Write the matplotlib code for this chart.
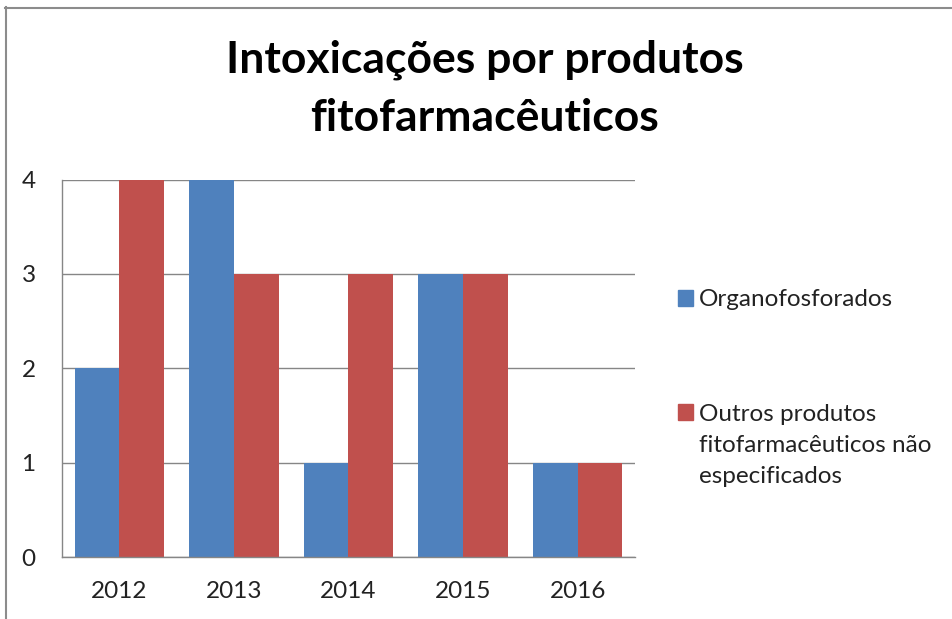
import numpy as np
import matplotlib
matplotlib.use('Agg')
import matplotlib.pyplot as plt
from matplotlib.lines import Line2D
from matplotlib.patches import Rectangle

# dados
anos = ['2012', '2013', '2014', '2015', '2016']
organofosforados = [2, 4, 1, 3, 1]
outros = [4, 3, 3, 3, 1]
series = ['Organofosforados', 'Outros produtos\nfitofarmacêuticos não\nespecificados']
cores = ['#4F81BD', '#C0504D']

plt.rcParams['font.family'] = ['Lato', 'DejaVu Sans']

W, H = 953, 619
fig = plt.figure(figsize=(W/100, H/100), dpi=100)
ax = fig.add_axes([62/W, 1 - 557/H, (635-62)/W, (557-179.5)/H])

x = np.arange(len(anos))
larg = 0.39
ax.bar(x - larg/2, organofosforados, larg, color=cores[0], zorder=2)
ax.bar(x + larg/2, outros, larg, color=cores[1], zorder=2)

ax.set_xlim(-0.5, len(anos) - 0.5)
ax.set_ylim(0, 4)
ax.set_yticks([0, 1, 2, 3, 4])
ax.set_xticks(x)
ax.set_xticklabels(anos)
ax.tick_params(length=0, labelsize=17.5, colors='#222222')
ax.tick_params(axis='y', pad=19)
ax.tick_params(axis='x', pad=17)
ax.grid(axis='y', color='#868686', lw=1, zorder=0)
for s in ['top', 'right']:
    ax.spines[s].set_visible(False)
for s in ['left', 'bottom']:
    ax.spines[s].set_color('#868686')
    ax.spines[s].set_linewidth(1)

# título
fig.text(485/W, 1 - 60/H, 'Intoxicações por produtos', ha='center', va='center',
         fontsize=32, fontweight='bold')
fig.text(485/W, 1 - 118/H, 'fitofarmacêuticos', ha='center', va='center',
         fontsize=32, fontweight='bold')

# legenda (quadrado alinhado com a primeira linha, como no Excel)
leg_base = [306, 420]
passo = 31.5  # px entre linhas
for cor, nome, yb in zip(cores, series, leg_base):
    fig.patches.append(Rectangle((678/W, 1 - yb/H), 15/W, 16/H,
                                 transform=fig.transFigure, color=cor))
    n = nome.count('\n')
    fig.text(699/W, 1 - (yb + n*passo)/H, nome, ha='left', va='baseline',
             fontsize=17.5, linespacing=1.58, color='#222222')

# moldura
fig.add_artist(Line2D([5/W, 1], [1 - 7.5/H, 1 - 7.5/H], color='#8c8c8c', lw=1.5))
fig.add_artist(Line2D([6/W, 6/W], [0, 1 - 7/H], color='#8c8c8c', lw=1.5))

fig.savefig('out.png', dpi=100)
